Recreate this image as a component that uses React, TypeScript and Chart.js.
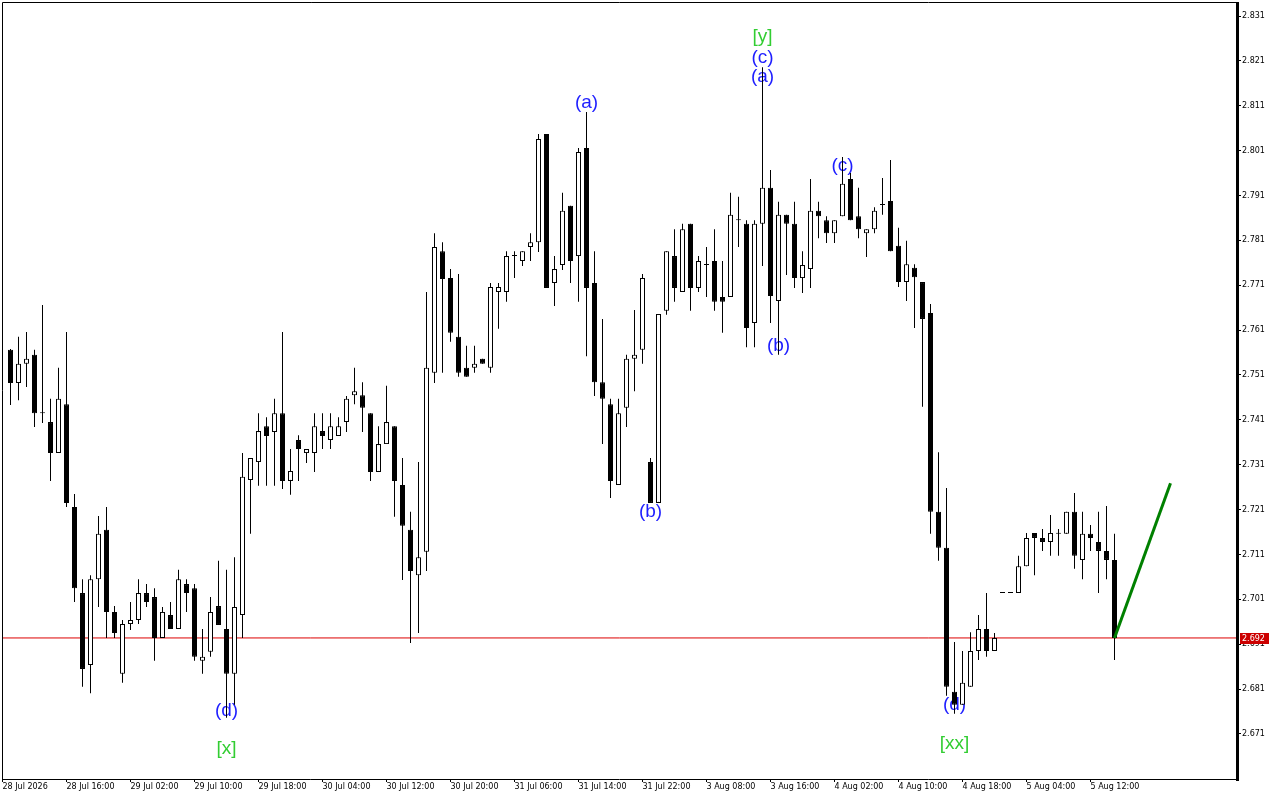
import React, { useEffect, useRef } from 'react';
import { Chart, registerables } from 'chart.js';

Chart.register(...registerables);

// Hourly candles (index 0 = first visible bar)
const opens = [
  2.7566, 2.7492, 2.7535, 2.7555, 2.7425, 2.7405, 2.7336, 2.7445, 2.7216, 2.7024,
  2.6864, 2.7055, 2.7165, 2.6982, 2.6844, 2.6955, 2.6964, 2.7024, 2.7015, 2.6924,
  2.6975, 2.6944, 2.7044, 2.7035, 2.6873, 2.6893, 2.6995, 2.6944, 2.6844, 2.6975,
  2.7276, 2.7316, 2.7396, 2.7383, 2.7425, 2.7274, 2.7365, 2.7336, 2.7336, 2.7385,
  2.7365, 2.7374, 2.7405, 2.7465, 2.7465, 2.7425, 2.7294, 2.7356, 2.7396, 2.7265,
  2.7165, 2.7064, 2.7116, 2.7515, 2.7786, 2.7726, 2.7595, 2.7526, 2.7526, 2.7546,
  2.7526, 2.7695, 2.7695, 2.7775, 2.7764, 2.7795, 2.7806, 2.8047, 2.7715, 2.7755,
  2.7887, 2.7775, 2.8016, 2.7715, 2.7494, 2.7445, 2.7265, 2.7437, 2.7546, 2.7566,
  2.7316, 2.7225, 2.7653, 2.7775, 2.7695, 2.7847, 2.7704, 2.7755, 2.7764, 2.7684,
  2.7684, 2.7855, 2.7847, 2.7626, 2.7847, 2.7927, 2.7675, 2.7867, 2.7847, 2.7726,
  2.7746, 2.7876, 2.7855, 2.7826, 2.7864, 2.7947, 2.7864, 2.7826, 2.7835, 2.7889,
  2.7898, 2.7798, 2.7717, 2.7749, 2.7717, 2.7648, 2.7205, 2.7125, 2.6804, 2.6775,
  2.6815, 2.6895, 2.6944, 2.6895, 2.7024, 2.7024, 2.7024, 2.7084, 2.7158, 2.7147,
  2.7138, 2.7156, 2.7156, 2.7205, 2.7098, 2.7156, 2.7138, 2.7118, 2.7098,
];
const highs = [
  2.7568, 2.7595, 2.7606, 2.7566, 2.7666, 2.7457, 2.7526, 2.7606, 2.7245, 2.7055,
  2.7064, 2.7196, 2.7216, 2.6995, 2.6964, 2.7004, 2.7055, 2.7044, 2.7035, 2.6993,
  2.7004, 2.7076, 2.7055, 2.7044, 2.6944, 2.7015, 2.7096, 2.7076, 2.7104, 2.7336,
  2.7325, 2.7425, 2.7416, 2.7457, 2.7606, 2.7345, 2.7376, 2.7345, 2.7425, 2.7425,
  2.7425, 2.7416, 2.7463, 2.7526, 2.7494, 2.7425, 2.7396, 2.7486, 2.7396, 2.7325,
  2.7205, 2.7316, 2.7695, 2.7826, 2.7806, 2.7746, 2.7735, 2.7575, 2.7575, 2.7546,
  2.7715, 2.7715, 2.7786, 2.7786, 2.7786, 2.7826, 2.8047, 2.8047, 2.7775, 2.7916,
  2.7887, 2.8016, 2.8096, 2.7786, 2.7635, 2.7457, 2.7457, 2.7555, 2.7655, 2.7735,
  2.7325, 2.7646, 2.7786, 2.7835, 2.7847, 2.7847, 2.7775, 2.7795, 2.7835, 2.7764,
  2.7916, 2.7907, 2.7855, 2.7855, 2.8196, 2.7967, 2.7896, 2.7867, 2.7896, 2.7786,
  2.7947, 2.7896, 2.7864, 2.7855, 2.7996, 2.7960, 2.7927, 2.7835, 2.7884, 2.7949,
  2.7989, 2.7838, 2.7809, 2.7757, 2.7717, 2.7668, 2.7338, 2.7258, 2.6915, 2.6895,
  2.6937, 2.6975, 2.7024, 2.6935, 2.7024, 2.7024, 2.7107, 2.7158, 2.7158, 2.7167,
  2.7198, 2.7167, 2.7205, 2.7247, 2.7205, 2.7176, 2.7205, 2.7218, 2.7156,
];
const lows = [
  2.7443, 2.7454, 2.7483, 2.7394, 2.7403, 2.7274, 2.7336, 2.7216, 2.7004, 2.6815,
  2.6801, 2.6993, 2.6924, 2.6924, 2.6824, 2.6942, 2.6955, 2.6993, 2.6873, 2.6924,
  2.6944, 2.6944, 2.6982, 2.6873, 2.6844, 2.6882, 2.6953, 2.6746, 2.6775, 2.6924,
  2.7156, 2.7263, 2.7263, 2.7263, 2.7256, 2.7243, 2.7274, 2.7314, 2.7294, 2.7345,
  2.7345, 2.7374, 2.7383, 2.7445, 2.7383, 2.7274, 2.7294, 2.7356, 2.7194, 2.7053,
  2.6913, 2.6935, 2.7073, 2.7492, 2.7515, 2.7584, 2.7506, 2.7506, 2.7515, 2.7535,
  2.7515, 2.7613, 2.7673, 2.7726, 2.7753, 2.7764, 2.7784, 2.7704, 2.7664, 2.7744,
  2.7715, 2.7673, 2.7552, 2.7463, 2.7356, 2.7236, 2.7265, 2.7394, 2.7474, 2.7535,
  2.7225, 2.7225, 2.7644, 2.7673, 2.7695, 2.7653, 2.7695, 2.7684, 2.7653, 2.7604,
  2.7684, 2.7795, 2.7572, 2.7572, 2.7753, 2.7626, 2.7555, 2.7733, 2.7704, 2.7693,
  2.7704, 2.7815, 2.7804, 2.7804, 2.7864, 2.7855, 2.7815, 2.7773, 2.7826, 2.7867,
  2.7786, 2.7706, 2.7675, 2.7615, 2.7439, 2.7156, 2.7096, 2.6795, 2.6755, 2.6775,
  2.6815, 2.6875, 2.6882, 2.6895, 2.7024, 2.7024, 2.7024, 2.7084, 2.7064, 2.7118,
  2.7107, 2.7107, 2.7156, 2.7078, 2.7055, 2.7118, 2.7024, 2.7055, 2.6875,
];
const closes = [
  2.7492, 2.7535, 2.7546, 2.7425, 2.7425, 2.7336, 2.7457, 2.7225, 2.7035, 2.6855,
  2.7055, 2.7156, 2.6982, 2.6935, 2.6955, 2.6964, 2.7024, 2.7004, 2.6924, 2.6982,
  2.6944, 2.7055, 2.7024, 2.6882, 2.6882, 2.6982, 2.6953, 2.6844, 2.6993, 2.7283,
  2.7325, 2.7385, 2.7374, 2.7425, 2.7274, 2.7296, 2.7345, 2.7345, 2.7396, 2.7374,
  2.7396, 2.7396, 2.7457, 2.7474, 2.7437, 2.7294, 2.7356, 2.7405, 2.7274, 2.7174,
  2.7073, 2.7104, 2.7526, 2.7795, 2.7724, 2.7604, 2.7515, 2.7506, 2.7535, 2.7535,
  2.7706, 2.7706, 2.7775, 2.7775, 2.7786, 2.7806, 2.8036, 2.7704, 2.7746, 2.7876,
  2.7764, 2.8007, 2.7704, 2.7494, 2.7457, 2.7274, 2.7425, 2.7546, 2.7555, 2.7726,
  2.7225, 2.7646, 2.7786, 2.7704, 2.7835, 2.7704, 2.7764, 2.7755, 2.7673, 2.7673,
  2.7867, 2.7855, 2.7615, 2.7847, 2.7927, 2.7686, 2.7867, 2.7847, 2.7726, 2.7755,
  2.7876, 2.7864, 2.7826, 2.7855, 2.7936, 2.7855, 2.7835, 2.7835, 2.7876, 2.7889,
  2.7786, 2.7717, 2.7757, 2.7728, 2.7635, 2.7205, 2.7125, 2.6815, 2.6775, 2.6824,
  2.6895, 2.6944, 2.6895, 2.6924, 2.7024, 2.7024, 2.7084, 2.7147, 2.7147, 2.7138,
  2.7158, 2.7156, 2.7205, 2.7107, 2.7156, 2.7147, 2.7118, 2.7098, 2.6924,
];

const xTickIdx = [-1, 7, 15, 23, 31, 39, 47, 55, 63, 71, 79, 87, 95, 103, 111, 119, 127, 135];
const xTickLabels = [
  '28 Jul 2026', '28 Jul 16:00', '29 Jul 02:00', '29 Jul 10:00', '29 Jul 18:00',
  '30 Jul 04:00', '30 Jul 12:00', '30 Jul 20:00', '31 Jul 06:00', '31 Jul 14:00',
  '31 Jul 22:00', '3 Aug 08:00', '3 Aug 16:00', '4 Aug 02:00', '4 Aug 10:00',
  '4 Aug 18:00', '5 Aug 04:00', '5 Aug 12:00',
];
const yTicks = [2.671, 2.681, 2.691, 2.701, 2.711, 2.721, 2.731, 2.741, 2.751, 2.761, 2.771, 2.781, 2.791, 2.801, 2.811, 2.821, 2.831];

const bidPrice = 2.6924;
const projIdx = [138, 145];
const projPrices = [2.6924, 2.7269];

const waveTexts = ['(d)', '[x]', '(a)', '(b)', '[y]', '(c)', '(a)', '(b)', '(c)', '(d)', '[xx]'];
const waveIdx = [27, 27, 72, 80, 94, 94, 94, 96, 104, 118, 118];
const wavePrices = [2.6761, 2.6677, 2.8116, 2.7205, 2.8263, 2.8216, 2.8174, 2.7575, 2.7976, 2.6775, 2.6688];

const X_MIN = -1.0625;
const X_MAX = 153.3125;
const Y_MIN = 2.66097;
const Y_MAX = 2.83412;

const FONT = '"DejaVu Sans", sans-serif';

const wavePlugin = {
  id: 'waveLabels',
  beforeDatasetsDraw(chart: any) {
    const { ctx, scales } = chart;
    ctx.save();
    ctx.font = '19px "Liberation Sans", Arial, sans-serif';
    ctx.textAlign = 'center';
    ctx.textBaseline = 'middle';
    waveTexts.forEach((t, k) => {
      ctx.fillStyle = t.startsWith('[') ? '#32cd32' : '#1e1eff';
      ctx.fillText(t, scales.x.getPixelForValue(waveIdx[k]), scales.y.getPixelForValue(wavePrices[k]));
    });
    ctx.restore();
  },
};

const framePlugin = {
  id: 'frame',
  afterDraw(chart: any) {
    const { ctx, chartArea, scales } = chart;
    const { left, top, right, bottom } = chartArea;
    ctx.save();
    ctx.strokeStyle = '#000';
    ctx.lineWidth = 1;
    ctx.beginPath();
    ctx.moveTo(left + 0.5, bottom);
    ctx.lineTo(left + 0.5, top + 0.5);
    ctx.lineTo(right, top + 0.5);
    ctx.moveTo(left, bottom + 0.5);
    ctx.lineTo(right, bottom + 0.5);
    ctx.stroke();
    ctx.fillStyle = '#000';
    ctx.fillRect(right - 1, top, 3, bottom - top + 2);
    // bid price tag
    const y = Math.round(scales.y.getPixelForValue(bidPrice));
    ctx.fillStyle = '#cc0000';
    ctx.fillRect(right + 3, y - 5, 29, 11);
    ctx.fillStyle = '#fff';
    ctx.font = '8px ' + FONT;
    ctx.textAlign = 'left';
    ctx.textBaseline = 'middle';
    ctx.fillText(bidPrice.toFixed(3), right + 5, y + 0.5);
    ctx.restore();
  },
};

export default function App() {
  const ref = useRef<HTMLCanvasElement | null>(null);

  useEffect(() => {
    if (!ref.current) return;
    const bodies = opens.map((o, i) => ({ x: i, y: [o, closes[i]] }));
    const wicks = lows.map((l, i) => ({ x: i, y: [l, highs[i]] }));
    const bodyColors = opens.map((o, i) => (closes[i] < o ? '#000000' : '#ffffff'));

    const chart = new Chart(ref.current, {
      type: 'bar',
      data: {
        datasets: [
          {
            type: 'line',
            data: projIdx.map((x, k) => ({ x, y: projPrices[k] })),
            borderColor: '#008000',
            borderWidth: 3,
            pointRadius: 0,
            order: -1,
          } as any,
          {
            type: 'bar',
            data: bodies,
            backgroundColor: bodyColors,
            borderColor: '#000',
            borderWidth: 1,
            borderSkipped: false,
            barThickness: 5,
            minBarLength: 1,
            grouped: false,
            inflateAmount: 0,
            order: 0,
          } as any,
          {
            type: 'bar',
            data: wicks,
            backgroundColor: '#000',
            borderWidth: 0,
            barThickness: 1,
            minBarLength: 1,
            grouped: false,
            inflateAmount: 0,
            order: 1,
          } as any,
          {
            type: 'line',
            data: [{ x: X_MIN, y: bidPrice }, { x: X_MAX, y: bidPrice }],
            borderColor: '#dd0000',
            borderWidth: 1,
            pointRadius: 0,
            order: 2,
          } as any,
        ],
      },
      options: {
        responsive: false,
        animation: false,
        events: [],
        layout: { padding: { top: 2, left: 2, right: 0, bottom: 0 } },
        plugins: { legend: { display: false }, tooltip: { enabled: false } },
        scales: {
          x: {
            type: 'linear',
            position: 'bottom',
            min: X_MIN,
            max: X_MAX,
            offset: false,
            afterBuildTicks: (s: any) => {
              s.ticks = xTickIdx.map((v) => ({ value: v }));
            },
            afterFit: (s: any) => {
              s.height = 21;
              s.paddingLeft = 0;
              s.paddingRight = 0;
            },
            ticks: {
              autoSkip: false,
              maxRotation: 0,
              minRotation: 0,
              align: 'start',
              padding: 0,
              color: '#000',
              font: { family: FONT, size: 8 },
              callback: (_v: any, i: number) => xTickLabels[i],
            },
            grid: { drawOnChartArea: false, drawTicks: true, tickLength: 3, color: '#000', offset: false },
            border: { display: false },
          } as any,
          y: {
            type: 'linear',
            position: 'right',
            min: Y_MIN,
            max: Y_MAX,
            afterBuildTicks: (s: any) => {
              s.ticks = yTicks.map((v) => ({ value: v }));
            },
            afterFit: (s: any) => {
              s.width = 43;
              s.paddingTop = 0;
              s.paddingBottom = 0;
            },
            ticks: {
              padding: 1,
              color: '#000',
              font: { family: FONT, size: 8 },
              callback: (v: any) => Number(v).toFixed(3),
            },
            grid: { drawOnChartArea: false, drawTicks: true, tickLength: 4, color: '#000' },
            border: { display: false },
          } as any,
        },
      },
      plugins: [wavePlugin, framePlugin],
    } as any);

    return () => chart.destroy();
  }, []);

  return (
    <div style={{ position: 'fixed', left: 0, top: 0, width: 1280, height: 800, background: '#fff' }}>
      <canvas ref={ref} width={1280} height={800} style={{ display: 'block' }} />
    </div>
  );
}
